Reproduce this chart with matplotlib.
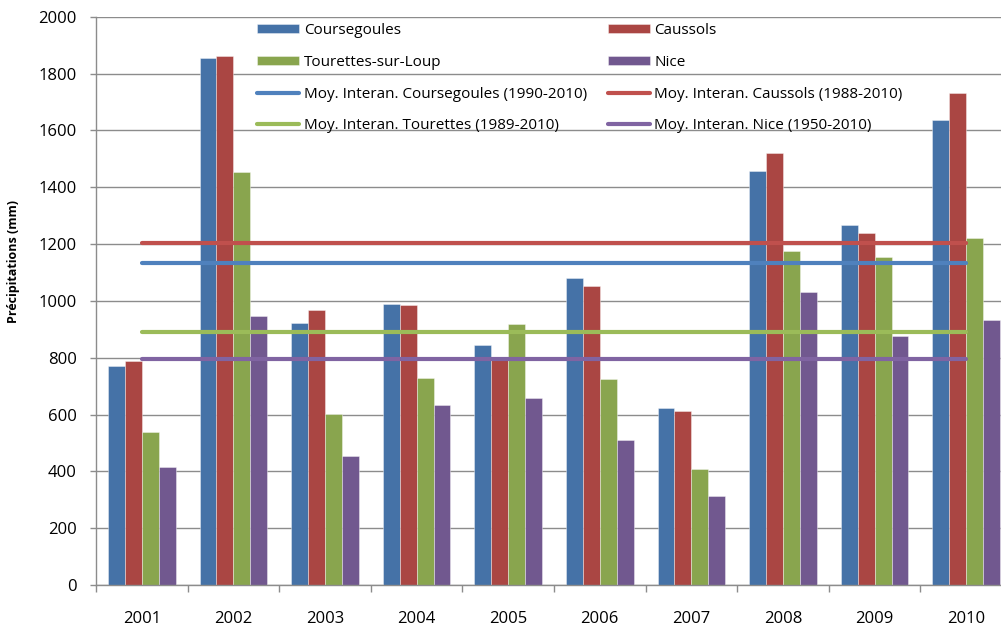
import matplotlib
matplotlib.use("Agg")
from matplotlib import pyplot as plt
import numpy as np

plt.rcParams['font.family'] = ['Open Sans', 'DejaVu Sans']

years = ["2001", "2002", "2003", "2004", "2005", "2006", "2007", "2008", "2009", "2010"]

coursegoules = [772, 1855, 923, 990, 845, 1082, 623, 1458, 1266, 1635]
caussols = [790, 1862, 968, 985, 800, 1053, 612, 1521, 1238, 1730]
tourettes = [540, 1455, 602, 730, 918, 725, 408, 1177, 1155, 1222]
nice = [415, 946, 455, 635, 657, 510, 312, 1030, 877, 933]

# moyennes interannuelles
moy_coursegoules = 1134
moy_caussols = 1202
moy_tourettes = 891
moy_nice = 797

bar_labels = ["Coursegoules", "Caussols", "Tourettes-sur-Loup", "Nice"]
line_labels = ["Moy. Interan. Coursegoules (1990-2010)", "Moy. Interan. Caussols (1988-2010)",
               "Moy. Interan. Tourettes (1989-2010)", "Moy. Interan. Nice (1950-2010)"]

bar_colors = ["#4572A7", "#AA4643", "#89A54E", "#71588F"]
line_colors = ["#4F81BD", "#C0504D", "#9BBB59", "#8064A2"]

fig = plt.figure(figsize=(10.01, 6.26), dpi=100)
# the plot area runs slightly past the right edge of the figure
ax = fig.add_axes([96 / 1001, 41 / 626, 916 / 1001, 568.3 / 626])

x = np.arange(len(years))
w = 0.185
series = [coursegoules, caussols, tourettes, nice]
bars = []
for i, vals in enumerate(series):
    b = ax.bar(x + (i - 1.5) * w, vals, w, color=bar_colors[i],
               edgecolor=(1, 1, 1, 0.45), linewidth=0.6, zorder=2)
    bars.append(b)

lines = []
for i, m in enumerate([moy_coursegoules, moy_caussols, moy_tourettes, moy_nice]):
    l, = ax.plot(x, np.full(len(x), m), color=line_colors[i], lw=3,
                 solid_capstyle='round', zorder=3)
    lines.append(l)

ax.set_xlim(-0.5, 9.5)
ax.set_ylim(0, 2000)
ax.set_yticks(np.arange(0, 2001, 200))
ax.yaxis.grid(True, color="#8c8c8c", lw=1)
ax.set_axisbelow(True)

ax.set_xticks(x)
ax.set_xticklabels(years)
ax.set_xticks(np.arange(-0.5, 10, 1), minor=True)
ax.tick_params(axis='x', which='major', length=0, pad=18.5, labelsize=12)
ax.tick_params(axis='x', which='minor', length=5, color="#8c8c8c", width=1)
ax.tick_params(axis='y', length=4, color="#8c8c8c", width=1, pad=10, labelsize=12)

for s in ["top", "right"]:
    ax.spines[s].set_visible(False)
for s in ["left", "bottom"]:
    ax.spines[s].set_color("#8c8c8c")
    ax.spines[s].set_linewidth(1)

ax.set_ylabel("Précipitations (mm)", fontweight='bold', fontsize=9)
ax.yaxis.set_label_coords(-0.083, 0.57)

handles = [bars[0], bars[2], lines[0], lines[2], bars[1], bars[3], lines[1], lines[3]]
labels = [bar_labels[0], bar_labels[2], line_labels[0], line_labels[2],
          bar_labels[1], bar_labels[3], line_labels[1], line_labels[3]]
leg = ax.legend(handles, labels, ncol=2, frameon=False, fontsize=11,
                loc='upper left', bbox_to_anchor=(0.166, 1.005),
                handlelength=2.75, handleheight=0.6, handletextpad=0.3,
                columnspacing=1.35, labelspacing=1.1, borderaxespad=0.2)

fig.savefig("out.png", dpi=100)
